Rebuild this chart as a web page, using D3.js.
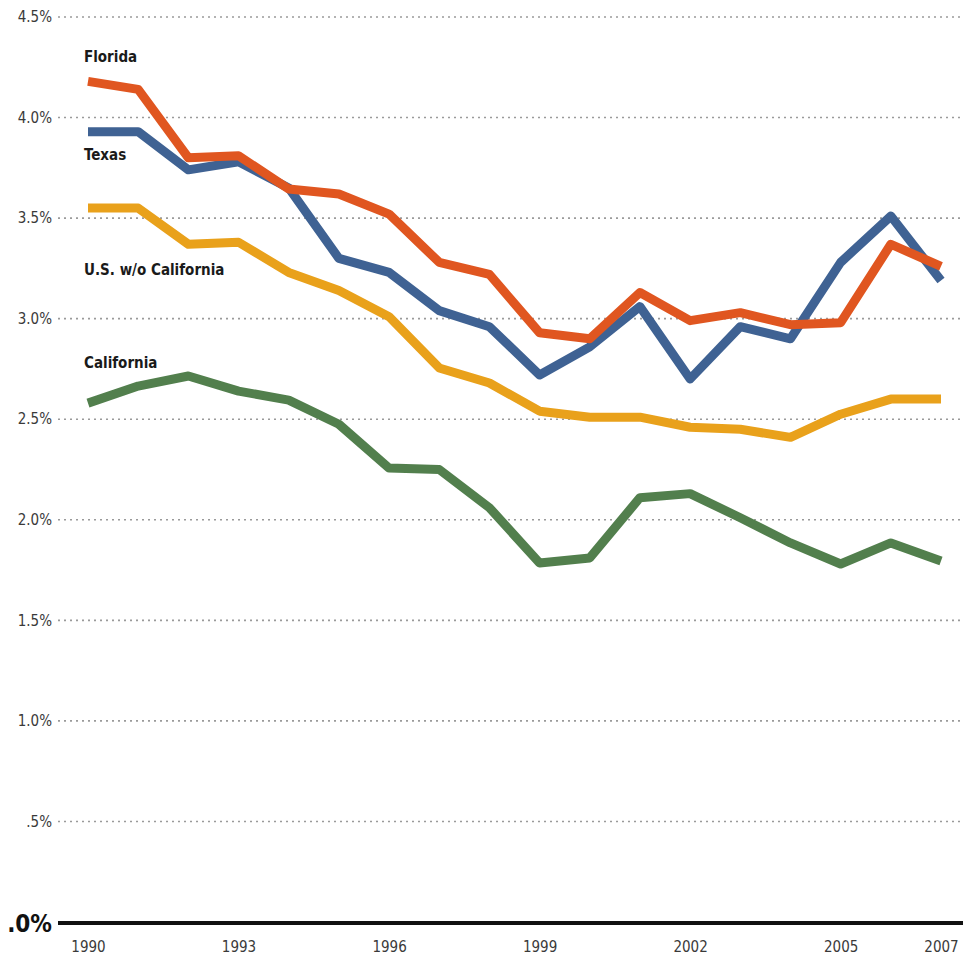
<!DOCTYPE html>
<html>
<head>
<meta charset="utf-8">
<script src="https://cdn.jsdelivr.net/npm/d3@7"></script>
<style>
  html, body { margin: 0; padding: 0; background: #fff; }
  svg { display: block; }
  .lbl { font-family: "Liberation Sans Narrow", "DejaVu Sans Condensed", "Liberation Sans", sans-serif; }
</style>
</head>
<body>
<svg id="chart" width="963" height="958"></svg>
<script>
const years = [1990,1991,1992,1993,1994,1995,1996,1997,1998,1999,2000,2001,2002,2003,2004,2005,2006,2007];
const florida = [4.18,4.14,3.80,3.81,3.645,3.62,3.52,3.28,3.22,2.93,2.90,3.13,2.99,3.03,2.97,2.98,3.37,3.26];
const texas = [3.93,3.93,3.74,3.78,3.65,3.30,3.23,3.04,2.96,2.72,2.86,3.06,2.70,2.96,2.90,3.28,3.51,3.19];
const usNoCA = [3.55,3.55,3.37,3.38,3.23,3.14,3.01,2.755,2.68,2.54,2.51,2.51,2.46,2.45,2.41,2.525,2.60,2.60];
const california = [2.58,2.665,2.715,2.64,2.595,2.475,2.257,2.25,2.06,1.785,1.81,2.11,2.13,2.01,1.885,1.78,1.885,1.795];
const yTicks = [0.5,1.0,1.5,2.0,2.5,3.0,3.5,4.0,4.5];
const yTickLabels = [".5%","1.0%","1.5%","2.0%","2.5%","3.0%","3.5%","4.0%","4.5%"];
const xTicks = [1990,1993,1996,1999,2002,2005,2007];
const seriesNames = ["Florida","Texas","U.S. w/o California","California"];

const svg = d3.select("#chart");
const x = d3.scaleLinear().domain([1990,2007]).range([88,941]);
const y = d3.scaleLinear().domain([0,4.5]).range([922,17]);

// gridlines
svg.append("g").selectAll("line").data(yTicks).join("line")
  .attr("x1",58).attr("x2",963)
  .attr("y1",d=>y(d)).attr("y2",d=>y(d))
  .attr("stroke","#9a9a9a").attr("stroke-width",1.6)
  .attr("stroke-dasharray","2,4");

// y tick labels
svg.append("g").selectAll("text").data(yTicks).join("text")
  .attr("class","lbl")
  .attr("x",52).attr("y",d=>y(d)).attr("dy","0.35em")
  .attr("text-anchor","end")
  .attr("font-size",15).attr("fill","#3a3a3a")
  .text((d,i)=>yTickLabels[i]);

// zero label
svg.append("text").attr("class","lbl")
  .attr("x",52).attr("y",y(0)).attr("dy","0.4em")
  .attr("text-anchor","end").attr("font-size",24).attr("font-weight","bold")
  .attr("fill","#111").text(".0%");

// baseline
svg.append("line").attr("x1",58).attr("x2",963)
  .attr("y1",y(0)+1).attr("y2",y(0)+1)
  .attr("stroke","#111").attr("stroke-width",4);

// x axis labels
const xAxis = d3.axisBottom(x).tickValues(xTicks).tickFormat(d3.format("d")).tickSize(0).tickPadding(0);
const gx = svg.append("g").attr("transform",`translate(0,${y(0)+19})`).call(xAxis);
gx.select(".domain").remove();
gx.selectAll("text").attr("class","lbl").attr("font-size",15).attr("fill","#3a3a3a").attr("font-family",null);

// lines
const line = d3.line().x((d,i)=>x(years[i])).y(d=>y(d));
const series = [
  {vals: usNoCA, color:"#e9a11b"},
  {vals: california, color:"#527f4d"},
  {vals: texas, color:"#3f6293"},
  {vals: florida, color:"#e05620"}
];
svg.append("g").selectAll("path").data(series).join("path")
  .attr("d",d=>line(d.vals))
  .attr("fill","none").attr("stroke",d=>d.color)
  .attr("stroke-width",9).attr("stroke-linejoin","round").attr("stroke-linecap","butt");

// series labels
const labelPos = [[84,57],[84,155],[84,270],[84,363]];
svg.append("g").selectAll("text").data(seriesNames).join("text")
  .attr("class","lbl")
  .attr("x",(d,i)=>labelPos[i][0]).attr("y",(d,i)=>labelPos[i][1]).attr("dy","0.35em")
  .attr("font-size",15).attr("font-weight","bold").attr("fill","#1a1a1a")
  .text(d=>d);
</script>
</body>
</html>
